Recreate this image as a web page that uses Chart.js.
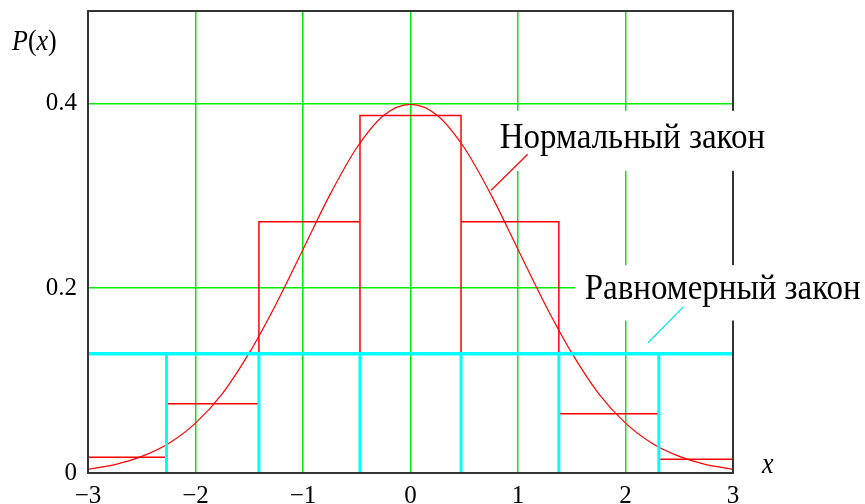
<!DOCTYPE html>
<html>
<head>
<meta charset="utf-8">
<script src="https://cdn.jsdelivr.net/npm/chart.js@4"></script>
<style>
  html, body { margin: 0; padding: 0; background: #fff; }
  #wrap { width: 865px; height: 504px; }
</style>
</head>
<body>
<div id="wrap"><canvas id="chart"></canvas></div>
<script>
// Histogram bins (edges and heights)
const binEdges = [-3, -2.27, -1.41, -0.47, 0.47, 1.38, 2.31, 3];
const binHeights = [0.017, 0.075, 0.272, 0.387, 0.272, 0.064, 0.015];

// Uniform law level
const uniformLevel = 0.129;

// Normal law curve
const curveX = [-3, -2.75, -2.5, -2.25, -2, -1.75, -1.5, -1.25, -1, -0.75, -0.5, -0.25,
                0, 0.25, 0.5, 0.75, 1, 1.25, 1.5, 1.75, 2, 2.25, 2.5, 2.75, 3];
const curveY = [0.004, 0.009, 0.018, 0.032, 0.054, 0.086, 0.130, 0.183, 0.242, 0.301, 0.352, 0.387,
                0.399, 0.387, 0.352, 0.301, 0.242, 0.183, 0.130, 0.086, 0.054, 0.032, 0.018, 0.009, 0.004];

// Tick labels
const xTicks = [-3, -2, -1, 0, 1, 2, 3];
const yTicks = [0, 0.2, 0.4];

const serif = "'Liberation Serif', 'Times New Roman', serif";

// Build the point lists the library needs
const histPoints = [];
for (let i = 0; i < binHeights.length; i++) {
  histPoints.push({x: binEdges[i], y: 0});
  histPoints.push({x: binEdges[i], y: binHeights[i]});
  histPoints.push({x: binEdges[i + 1], y: binHeights[i]});
  histPoints.push({x: binEdges[i + 1], y: 0});
}

const uniformLine = [
  {x: binEdges[0], y: uniformLevel},
  {x: binEdges[binEdges.length - 1], y: uniformLevel}
];

const uniformSticks = [];
for (let i = 1; i < binEdges.length - 1; i++) {
  uniformSticks.push({x: binEdges[i], y: 0});
  uniformSticks.push({x: binEdges[i], y: uniformLevel});
  uniformSticks.push({x: binEdges[i], y: null});
}

const curvePoints = curveX.map((x, i) => ({x: x, y: curveY[i]}));

// Text, boxes and leader lines, in data units
const notes = [
  {text: 'Нормальный закон', x: 0.83, y: 0.3515, color: '#ff0000',
   box: [0.79, 0.392, 3.35, 0.327], lead: [1.09, 0.345, 0.75, 0.306]},
  {text: 'Равномерный закон', x: 1.62, y: 0.1887, color: '#00e5ee',
   box: [1.53, 0.225, 4.3, 0.165], lead: [2.54, 0.180, 2.21, 0.141]}
];

function stretchText(ctx, str, x, y) {
  ctx.save();
  ctx.translate(x, y);
  ctx.scale(1, 1.1);
  ctx.fillText(str, 0, 0);
  ctx.restore();
  return ctx.measureText(str).width;
}

const decor = {
  id: 'decor',
  afterDraw(chart) {
    const ctx = chart.ctx;
    const area = chart.chartArea;
    const xs = chart.scales.x, ys = chart.scales.y;

    // frame
    ctx.save();
    ctx.strokeStyle = '#333';
    ctx.lineWidth = 2;
    ctx.strokeRect(area.left, area.top, area.right - area.left, area.bottom - area.top);

    // label boxes, then text and leaders
    notes.forEach(n => {
      const x1 = xs.getPixelForValue(n.box[0]), y1 = ys.getPixelForValue(n.box[1]);
      const x2 = xs.getPixelForValue(n.box[2]), y2 = ys.getPixelForValue(n.box[3]);
      ctx.fillStyle = '#fff';
      ctx.fillRect(x1, y1, x2 - x1, y2 - y1);
    });
    notes.forEach(n => {
      ctx.fillStyle = '#000';
      ctx.font = '33px ' + serif;
      ctx.textBaseline = 'alphabetic';
      ctx.textAlign = 'left';
      stretchText(ctx, n.text, xs.getPixelForValue(n.x), ys.getPixelForValue(n.y));
      ctx.strokeStyle = n.color;
      ctx.lineWidth = 1.2;
      ctx.beginPath();
      ctx.moveTo(xs.getPixelForValue(n.lead[0]), ys.getPixelForValue(n.lead[1]));
      ctx.lineTo(xs.getPixelForValue(n.lead[2]), ys.getPixelForValue(n.lead[3]));
      ctx.stroke();
    });

    // axis titles
    ctx.fillStyle = '#000';
    ctx.textBaseline = 'alphabetic';
    let px = 12;
    const parts = [['P', 'italic '], ['(', ''], ['x', 'italic '], [')', '']];
    parts.forEach(p => {
      ctx.font = p[1] + '26px ' + serif;
      px += stretchText(ctx, p[0], px, 50);
    });
    ctx.font = 'italic 26px ' + serif;
    stretchText(ctx, 'x', area.right + 29, area.bottom);
    ctx.restore();
  }
};

new Chart(document.getElementById('chart'), {
  type: 'line',
  data: {
    datasets: [
      {data: uniformLine, borderColor: '#00ffff', borderWidth: 3.5, pointRadius: 0, tension: 0},
      {data: uniformSticks, borderColor: '#00ffff', borderWidth: 3, pointRadius: 0, tension: 0, spanGaps: false},
      {data: histPoints, borderColor: '#ff0000', borderWidth: 1.5, pointRadius: 0, tension: 0},
      {data: curvePoints, borderColor: '#ff0000', borderWidth: 1.2, pointRadius: 0,
       cubicInterpolationMode: 'monotone'}
    ]
  },
  options: {
    responsive: true,
    maintainAspectRatio: false,
    animation: false,
    layout: {padding: {left: 0, top: 11, right: 132, bottom: 0}},
    plugins: {legend: {display: false}, tooltip: {enabled: false}},
    scales: {
      x: {
        type: 'linear',
        min: -3,
        max: 3,
        afterBuildTicks: s => { s.ticks = xTicks.map(v => ({value: v})); },
        afterFit: s => { s.height = 31; s.paddingLeft = 0; s.paddingRight = 0; },
        border: {display: false},
        grid: {
          drawTicks: false,
          lineWidth: 1.5,
          color: c => (c.tick && Math.abs(c.tick.value) < 3) ? '#00ee00' : 'rgba(0,0,0,0)'
        },
        ticks: {
          padding: 8,
          color: '#000',
          font: {family: serif, size: 25},
          maxRotation: 0,
          callback: v => v < 0 ? '\u2212' + Math.abs(v) : String(v)
        }
      },
      y: {
        type: 'linear',
        min: 0,
        max: 0.5,
        afterBuildTicks: s => { s.ticks = yTicks.map(v => ({value: v})); },
        afterFit: s => { s.width = 88; s.paddingTop = 0; s.paddingBottom = 0; },
        border: {display: false},
        grid: {
          drawTicks: false,
          lineWidth: 1.5,
          color: c => (c.tick && c.tick.value > 0) ? '#00ee00' : 'rgba(0,0,0,0)'
        },
        ticks: {
          padding: 11,
          color: '#000',
          font: {family: serif, size: 25},
          callback: v => String(v)
        }
      }
    }
  },
  plugins: [decor]
});
</script>
</body>
</html>
